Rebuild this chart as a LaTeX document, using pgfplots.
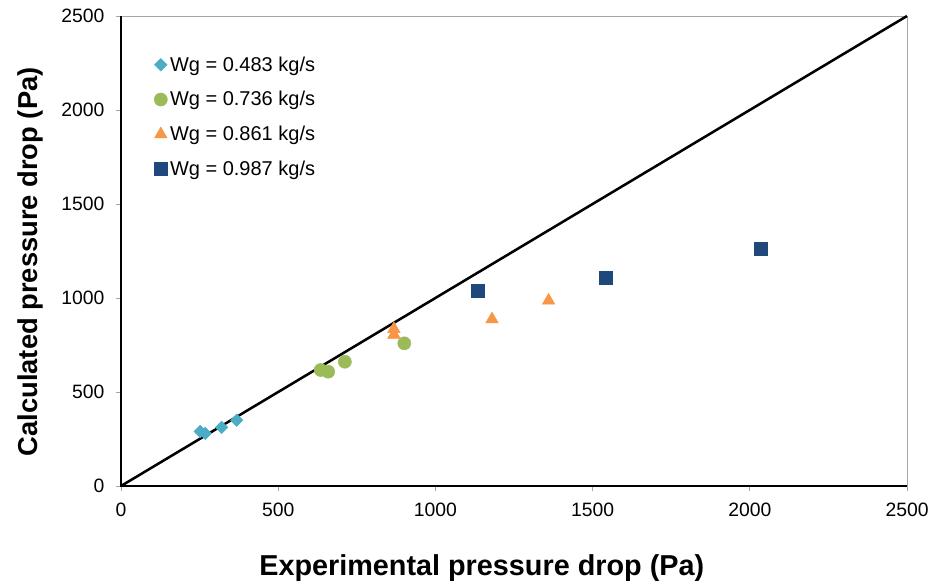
\documentclass[border=0pt]{standalone}
\usepackage{fontspec}
\setmainfont{Liberation Sans}
\usepackage{pgfplots}
\pgfplotsset{compat=1.18}

\definecolor{c483}{HTML}{4BACC6}
\definecolor{c736}{HTML}{9BBB59}
\definecolor{c861}{HTML}{F79646}
\definecolor{c987}{HTML}{1F497D}

\begin{document}
\begin{tikzpicture}
\begin{axis}[
    scale only axis,
    width=589.5pt, height=352.5pt,
    xmin=0, xmax=2500, ymin=0, ymax=2500,
    xtick={0,500,...,2500}, ytick={0,500,...,2500},
    clip=false,
    axis line style={draw=gray!70, line width=0.6pt},
    tick style={draw=gray!70, line width=0.6pt},
    tick align=outside, tick pos=left,
    major tick length=4pt,
    /pgf/number format/assume math mode=true,
    /pgf/number format/set thousands separator={},
    tick label style={font=\fontsize{14.5}{17}\selectfont},
    xticklabel style={yshift=-5pt},
    yticklabel style={xshift=-5pt},
    xlabel={\textbf{Experimental pressure drop (Pa)}},
    ylabel={\textbf{Calculated pressure drop (Pa)}},
    xlabel style={font=\fontsize{21.6}{25}\selectfont,
        at={(axis description cs:0.459,-0.1745)}, anchor=center},
    ylabel style={font=\fontsize{20.5}{24}\selectfont,
        at={(axis description cs:-0.1154,0.477)}, anchor=center},
    legend style={draw=none, fill=none, at={(axis description cs:0.042,0.92)},
        anchor=north west, font=\fontsize{15}{18}\selectfont,
        row sep=9.7pt, inner sep=0pt},
    legend cell align=left,
    legend image code/.code={\draw plot coordinates {(0.16cm,0cm)};},
]
\addplot[only marks, mark=square*, mark size=3.3pt, color=c483,
    mark options={rotate=45}] coordinates {
(252,290) (268,280) (320,312) (368,350)
};
\addlegendentry{Wg = 0.483 kg/s}

\addplot[only marks, mark=*, mark size=4.9pt, color=c736] coordinates {
(635,617) (659,608) (712,661) (901,759)
};
\addlegendentry{Wg = 0.736 kg/s}

\addplot[only marks, mark=triangle*, mark size=5.4pt, color=c861] coordinates {
(868,835) (868,805) (1180,887) (1360,986)
};
\addlegendentry{Wg = 0.861 kg/s}

\addplot[only marks, mark=square*, mark size=4.8pt, color=c987] coordinates {
(1136,1037) (1542,1108) (2036,1261)
};
\addlegendentry{Wg = 0.987 kg/s}

\addplot[black, line width=1.9pt, forget plot] coordinates {(0,0) (2500,2500)};

% black left and bottom axis lines, grey top and right
\draw[black, line width=0.8pt] (rel axis cs:0,1) -- (rel axis cs:0,0) -- (rel axis cs:1,0);
\end{axis}
\path (current axis.south west) ++(-90.75pt,-76.5pt) coordinate (bbsw);
\path (current axis.north east) ++(20.25pt,12pt) coordinate (bbne);
\path[use as bounding box] (bbsw) rectangle (bbne);
\end{tikzpicture}
\end{document}
